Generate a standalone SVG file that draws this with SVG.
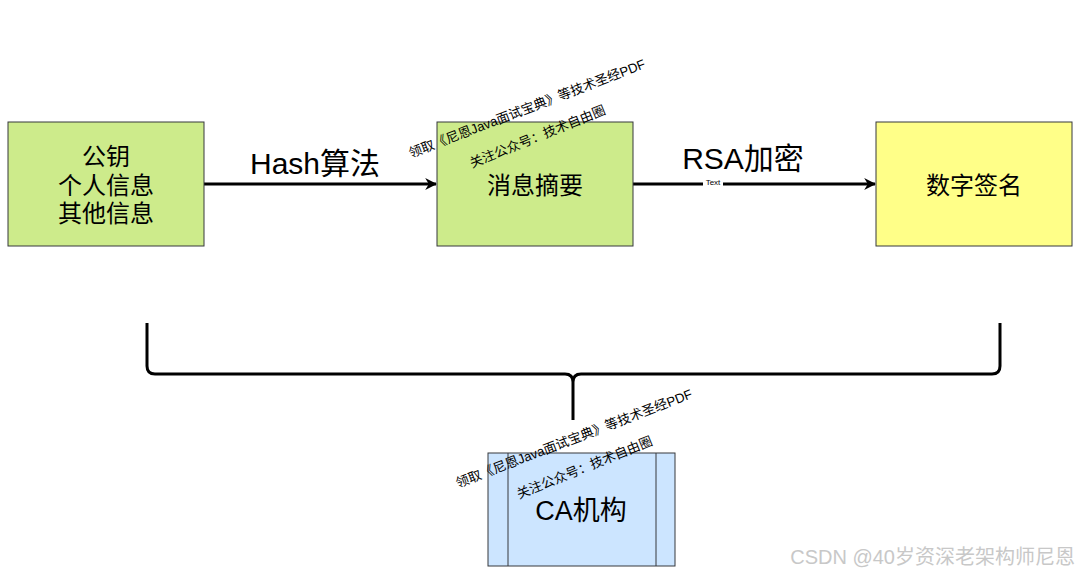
<svg xmlns="http://www.w3.org/2000/svg" width="1080" height="576" viewBox="0 0 1080 576">
<defs>
<style>
.t{font-family:"Liberation Sans","Noto Sans CJK SC",sans-serif;fill:#000;text-anchor:middle}
.wm{font-family:"Liberation Sans","Noto Sans CJK SC",sans-serif;fill:#000;font-size:13.2px}
.edge{stroke:#000;stroke-width:3;fill:none}
</style>
<marker id="ah" viewBox="0 0 10 10" refX="9" refY="5" markerWidth="4" markerHeight="4" orient="auto" markerUnits="strokeWidth">
<path d="M0,0 L10,5 L0,10 L3,5 Z" fill="#000"/>
</marker>
</defs>
<rect width="1080" height="576" fill="#fff"/>
<g id="connectors">
<line class="edge" x1="204" y1="184" x2="436" y2="184" marker-end="url(#ah)"/>
<line class="edge" x1="633" y1="184" x2="875" y2="184" marker-end="url(#ah)"/>
<path class="edge" d="M147,323 V366 Q147,374 155,374 H565 Q573,374 573,382 V420 M573,382 Q573,374 581,374 H992 Q1000,374 1000,366 V323"/>
<text class="t" x="315" y="174" font-size="30">Hash算法</text>
<rect x="703" y="179" width="20" height="9" fill="#fff"/>
<text class="t" x="743" y="169" font-size="30">RSA加密</text>
<text class="t" x="713" y="185" font-size="8">Text</text>
</g>
<g id="node-pubkey">
<rect x="8" y="122" width="196" height="124" fill="#cdeb8b" stroke="#36393d" stroke-width="1"/>
<text class="t" x="106" y="165" font-size="24">公钥</text>
<text class="t" x="106" y="194" font-size="24">个人信息</text>
<text class="t" x="106" y="222" font-size="24">其他信息</text>
</g>
<g id="node-digest">
<rect x="437" y="122" width="196" height="124" fill="#cdeb8b" stroke="#36393d" stroke-width="1"/>
<text class="t" x="535" y="194" font-size="24">消息摘要</text>
</g>
<g id="node-sign">
<rect x="876" y="122" width="196" height="124" fill="#ffff88" stroke="#36393d" stroke-width="1"/>
<text class="t" x="974" y="194" font-size="24">数字签名</text>
</g>
<g id="node-ca">
<rect x="488" y="453" width="187" height="113" fill="#cce5ff" stroke="#36393d" stroke-width="1"/>
<line x1="508" y1="453" x2="508" y2="566" stroke="#36393d" stroke-width="1"/>
<line x1="656" y1="453" x2="656" y2="566" stroke="#36393d" stroke-width="1"/>
<text class="t" x="581" y="520" font-size="27">CA机构</text>
</g>
<g id="watermarks">
<text class="wm" transform="translate(411,158) rotate(-21)">领取《尼恩Java面试宝典》等技术圣经PDF</text>
<text class="wm" transform="translate(472,168) rotate(-22)">关注公众号：技术自由圈</text>
<text class="wm" transform="translate(458,488) rotate(-21)">领取《尼恩Java面试宝典》等技术圣经PDF</text>
<text class="wm" transform="translate(519,499) rotate(-22)">关注公众号：技术自由圈</text>
<text x="1075" y="564" font-family="Liberation Sans,Noto Sans CJK SC,sans-serif" font-size="20" fill="#c8c8c8" text-anchor="end">CSDN @40岁资深老架构师尼恩</text>
</g>
</svg>
